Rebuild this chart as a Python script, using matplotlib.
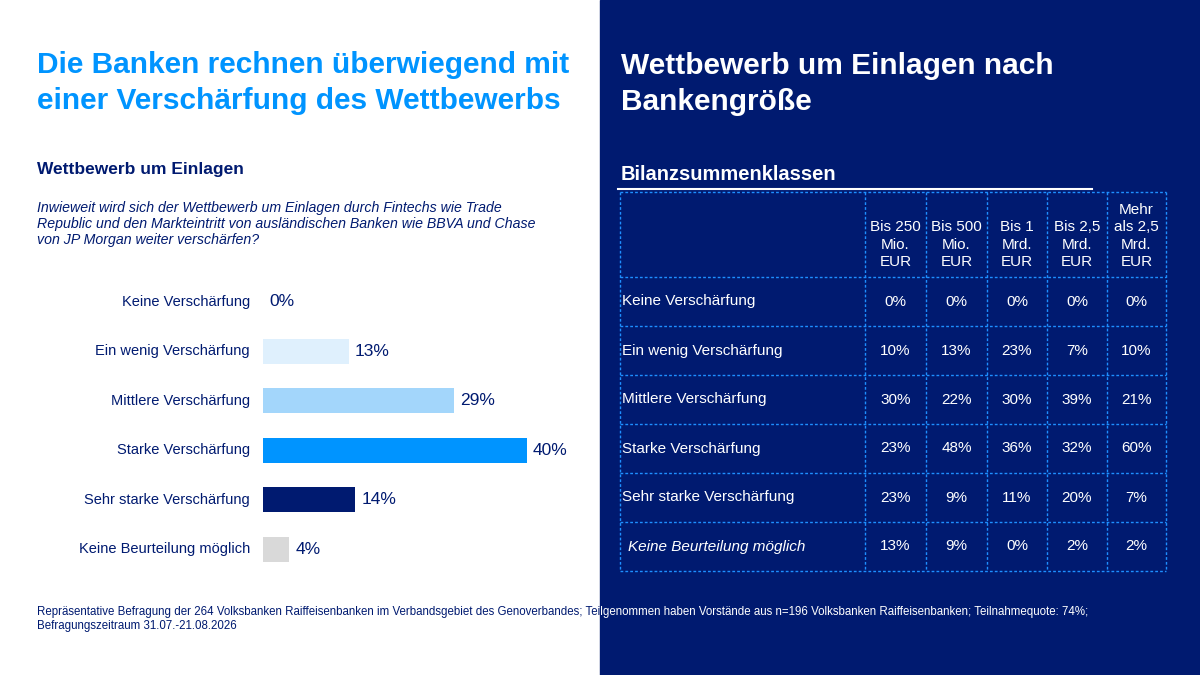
import matplotlib
matplotlib.use('Agg')
import matplotlib.pyplot as plt
from matplotlib.patches import Rectangle
from matplotlib.lines import Line2D

plt.rcParams['font.family'] = ['Liberation Sans', 'DejaVu Sans']

categories = ['Keine Verschärfung', 'Ein wenig Verschärfung', 'Mittlere Verschärfung',
              'Starke Verschärfung', 'Sehr starke Verschärfung', 'Keine Beurteilung möglich']
total = [0, 13, 29, 40, 14, 4]
bar_colors = ['#dff0fd', '#dff0fd', '#a3d6fb', '#0094ff', '#001a70', '#d9d9d9']

col_heads = ['Bis 250\nMio.\nEUR', 'Bis 500\nMio.\nEUR', 'Bis 1\nMrd.\nEUR',
             'Bis 2,5\nMrd.\nEUR', 'Mehr\nals 2,5\nMrd.\nEUR']
by_size = [
    [0, 0, 0, 0, 0],
    [10, 13, 23, 7, 10],
    [30, 22, 30, 39, 21],
    [23, 48, 36, 32, 60],
    [23, 9, 11, 20, 7],
    [13, 9, 0, 2, 2],
]

NAVY = '#001a70'
BLUE = '#0094ff'
W, H = 1200, 675

fig = plt.figure(figsize=(12, 6.75), dpi=100)

def px(x, y):
    return x / W, 1 - y / H

def ftext(x, y, s, **kw):
    return fig.text(*px(x, y), s, **kw)

# right navy panel
fig.add_artist(Rectangle(px(600, 675), 600 / W, 1, transform=fig.transFigure,
                         color=NAVY, zorder=0))

# left titles
ftext(37, 83, 'Die Banken rechnen überwiegend mit\neiner Verschärfung des Wettbewerbs',
      color=BLUE, fontsize=21.5, fontweight='bold', va='center', linespacing=1.35)
ftext(37, 170, 'Wettbewerb um Einlagen', color=NAVY, fontsize=12.5, fontweight='bold', va='center')
ftext(37, 224, 'Inwieweit wird sich der Wettbewerb um Einlagen durch Fintechs wie Trade\n'
      'Republic und den Markteintritt von ausländischen Banken wie BBVA und Chase\n'
      'von JP Morgan weiter verschärfen?', color=NAVY, fontsize=10.2, style='italic',
      va='center', linespacing=1.15)

# footnote: navy on white part, white on navy part
note = ('Repräsentative Befragung der 264 Volksbanken Raiffeisenbanken im Verbandsgebiet des Genoverbandes; '
        'Teilgenommen haben Vorstände aus n=196 Volksbanken Raiffeisenbanken; Teilnahmequote: 74%;\n'
        'Befragungszeitraum 31.07.-21.08.2026')
for col, x0, w in [(NAVY, 0, 600), ('white', 600, 600)]:
    t = ftext(37, 619, note, color=col, fontsize=8.3, va='center', linespacing=1.3, zorder=5)
    clip = Rectangle(px(x0, 675), w / W, 1, transform=fig.transFigure)
    t.set_clip_path(clip)

# bar chart
l, b = px(263, 574)
ax = fig.add_axes([l, b, (600 - 263) / W, (574 - 277) / H])
ax.barh(range(len(total)), total, height=0.5, color=bar_colors)
ax.set_xlim(0, 337 / 6.6)
ax.set_ylim(5.5, -0.5)
ax.axis('off')
for i, (c, v) in enumerate(zip(categories, total)):
    ax.text(v + 0.9, i, f'{v}%', va='center', ha='left', color=NAVY, fontsize=12.5)
    ax.text(-2, i, c, va='center', ha='right', color=NAVY, fontsize=10.5)

# right titles
ftext(621, 84, 'Wettbewerb um Einlagen nach\nBankengröße', color='white', fontsize=21.5,
      fontweight='bold', va='center', linespacing=1.35)
ftext(621, 174, 'Bilanzsummenklassen', color='white', fontsize=14.5, fontweight='bold', va='center')
fig.add_artist(Line2D([px(618, 0)[0], px(1092, 0)[0]], [px(0, 189)[1]] * 2,
                      transform=fig.transFigure, color='white', lw=1.5))

# table grid
xs = [620, 865, 926, 987, 1047, 1107, 1166]
ys = [192, 277, 326, 375, 424, 473, 522, 571]
grid = '#1e8fff'
for x in xs:
    fig.add_artist(Line2D([x / W] * 2, [px(0, ys[0])[1], px(0, ys[-1])[1]],
                          transform=fig.transFigure, color=grid, lw=1, ls=(0, (2, 1.5))))
for y in ys:
    fig.add_artist(Line2D([xs[0] / W, xs[-1] / W], [px(0, y)[1]] * 2,
                          transform=fig.transFigure, color=grid, lw=1, ls=(0, (2, 1.5))))

for j, h in enumerate(col_heads):
    cx = (xs[j + 1] + xs[j + 2]) / 2
    ftext(cx, 269, h, color='white', fontsize=11, ha='center', va='bottom', linespacing=1.3)

for i, (c, row) in enumerate(zip(categories, by_size)):
    cy = (ys[i + 1] + ys[i + 2]) / 2
    last = i == len(categories) - 1
    ftext(628 if last else 622, cy, c, color='white', fontsize=11, va='center',
          style='italic' if last else 'normal')
    for j, v in enumerate(row):
        cx = (xs[j + 1] + xs[j + 2]) / 2
        ftext(cx, cy, f'{v}%', color='white', fontsize=11, ha='center', va='center')

fig.savefig('out.png', dpi=100)
